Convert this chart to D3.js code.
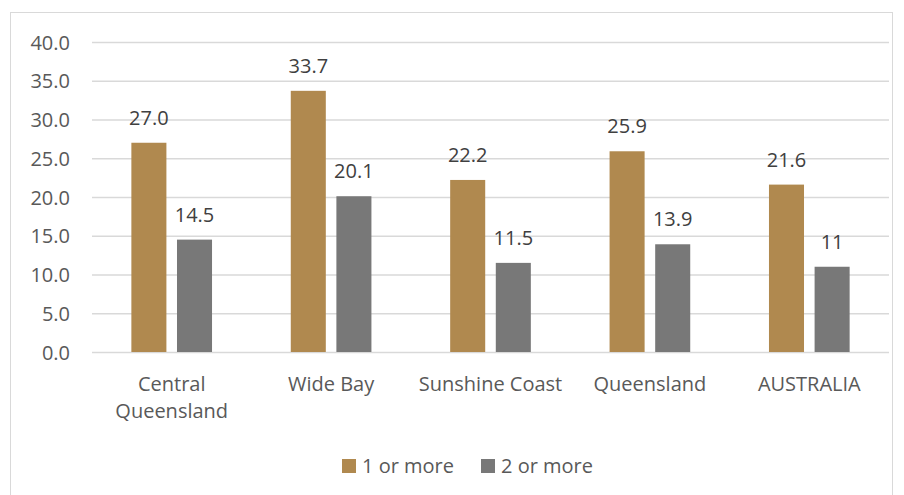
<!DOCTYPE html>
<html><head><meta charset="utf-8">
<script src="https://cdn.jsdelivr.net/npm/d3@7"></script>
<style>body{margin:0;background:#fff}svg{display:block}text{font-family:"Open Sans",sans-serif}</style>
</head><body><svg id="c" width="904" height="495"></svg>
<script>
const categories = [["Central","Queensland"],["Wide Bay"],["Sunshine Coast"],["Queensland"],["AUSTRALIA"]];
const seriesNames = ["1 or more","2 or more"];
const oneOrMore = [27.0, 33.7, 22.2, 25.9, 21.6];
const twoOrMore = [14.5, 20.1, 11.5, 13.9, 11];
const labelsOne = ["27.0","33.7","22.2","25.9","21.6"];
const labelsTwo = ["14.5","20.1","11.5","13.9","11"];
const yTicks = [0,5,10,15,20,25,30,35,40];
const colors = ["#b0894f","#787878"];

(function(){
const FS = "20px";
const svg = d3.select("#c");
svg.append("rect").attr("x",10.5).attr("y",12.5).attr("width",882).attr("height",490)
  .attr("fill","#fff").attr("stroke","#d9d9d9");

const pl=92, pr=889, pt=42, pb=352;
const keys = categories.map(c=>c.join(" "));
const y = d3.scaleLinear().domain([0,40]).range([pb,pt]);
const x0 = d3.scaleBand().domain(keys).range([pl,pr]).paddingInner(0.494).paddingOuter(0.247);
const x1 = d3.scaleBand().domain(seriesNames).range([0,x0.bandwidth()]).paddingInner(0.232);

const yAxis = d3.axisLeft(y).tickValues(yTicks).tickSize(-(pr-pl)).tickFormat(d3.format(".1f")).tickPadding(22);
const ga = svg.append("g").attr("transform",`translate(${pl},0)`).call(yAxis);
ga.select(".domain").remove();
ga.selectAll(".tick line").attr("stroke","#d9d9d9").attr("stroke-width",1.3);
ga.selectAll(".tick text").attr("fill","#595959").attr("dy","0.35em").style("font-size",FS).style("font-family","'Open Sans',sans-serif");

const data = keys.map((k,i)=>({k, vals:[oneOrMore[i],twoOrMore[i]], labs:[labelsOne[i],labelsTwo[i]], lines:categories[i]}));
const g = svg.selectAll("g.cat").data(data).join("g").attr("class","cat")
  .attr("transform",d=>`translate(${x0(d.k)},0)`);
g.selectAll("rect").data(d=>d.vals.map((v,j)=>({v,j}))).join("rect")
  .attr("x",d=>x1(seriesNames[d.j])).attr("width",x1.bandwidth())
  .attr("y",d=>y(d.v)).attr("height",d=>pb-y(d.v)).attr("fill",d=>colors[d.j]);
g.selectAll("text.lab").data(d=>d.vals.map((v,j)=>({v,j,l:d.labs[j]}))).join("text").attr("class","lab")
  .attr("x",d=>x1(seriesNames[d.j])+x1.bandwidth()/2).attr("y",d=>y(d.v)-18)
  .attr("text-anchor","middle").attr("fill","#404040").style("font-size",FS).text(d=>d.l);
g.append("text").attr("text-anchor","middle").attr("fill","#595959").style("font-size",FS)
  .attr("x",x0.bandwidth()/2).attr("y",391)
  .selectAll("tspan").data(d=>d.lines).join("tspan")
  .attr("x",x0.bandwidth()/2).attr("dy",(d,i)=>i? "1.35em":0).text(d=>d);

const legX=[342,481];
seriesNames.forEach((s,i)=>{
  svg.append("rect").attr("x",legX[i]).attr("y",459).attr("width",14).attr("height",14).attr("fill",colors[i]);
  svg.append("text").attr("x",legX[i]+20).attr("y",473).attr("fill","#595959").style("font-size",FS).text(s);
});
})();
</script></body></html>
